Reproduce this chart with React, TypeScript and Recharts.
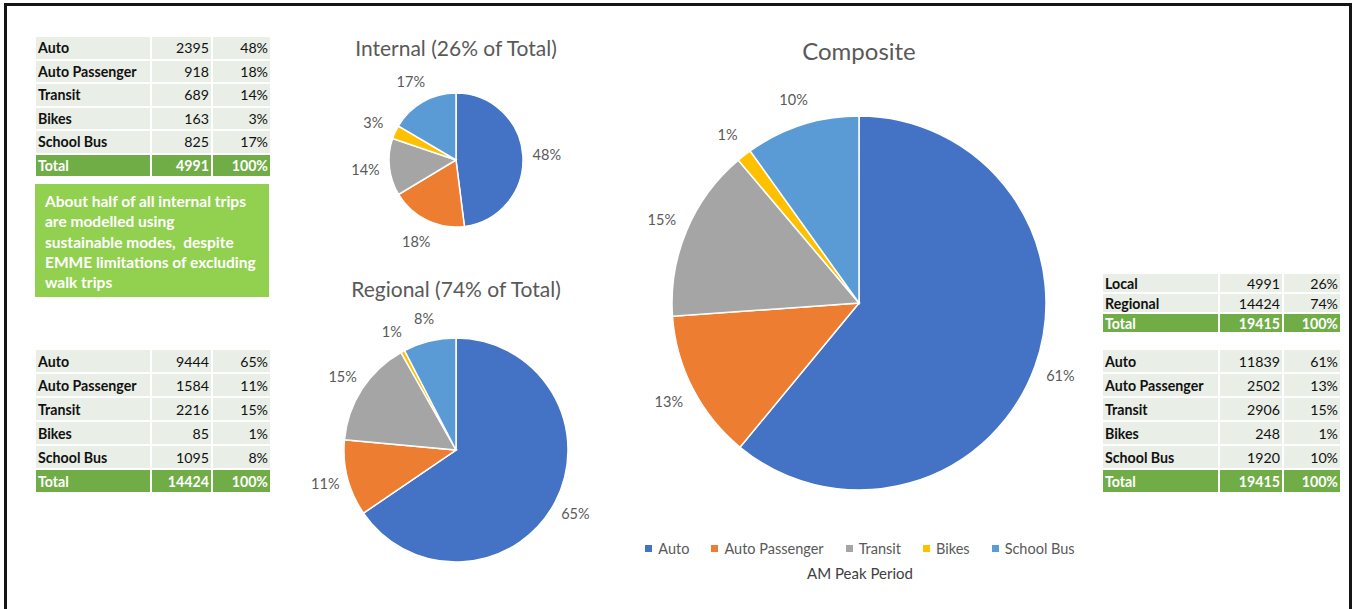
import React from "react";
import { PieChart, Pie, Cell, Legend } from "recharts";

const categories = ["Auto", "Auto Passenger", "Transit", "Bikes", "School Bus"];
const colors = ["#4472C4", "#ED7D31", "#A5A5A5", "#FFC000", "#5B9BD5"];

const internalValues = [2395, 918, 689, 163, 825];
const internalPct = ["48%", "18%", "14%", "3%", "17%"];
const internalTotal = 4991;

const regionalValues = [9444, 1584, 2216, 85, 1095];
const regionalPct = ["65%", "11%", "15%", "1%", "8%"];
const regionalTotal = 14424;

const compositeValues = [11839, 2502, 2906, 248, 1920];
const compositePct = ["61%", "13%", "15%", "1%", "10%"];
const compositeTotal = 19415;

const splitLabels = ["Local", "Regional"];
const splitValues = [4991, 14424];
const splitPct = ["26%", "74%"];

const noteLines = [
  "About half of all internal trips",
  "are modelled using",
  "sustainable modes,  despite",
  "EMME limitations of excluding",
  "walk trips",
];

const FONT = "Lato, 'Open Sans', sans-serif";
const RADIAN = Math.PI / 180;
const NO_MARGIN = { top: 0, right: 0, bottom: 0, left: 0 };

const toData = (values: number[]) =>
  categories.map((name, i) => ({ name, value: values[i] }));

const makeLabel = (gap: number) => (props: any) => {
  const { cx, cy, midAngle, outerRadius, percent } = props;
  const r = outerRadius + gap;
  const x = cx + r * Math.cos(-midAngle * RADIAN);
  const y = cy + r * Math.sin(-midAngle * RADIAN);
  return (
    <text
      x={x}
      y={y}
      fill="#595959"
      fontSize={14.5}
      fontFamily={FONT}
      textAnchor="middle"
      dominantBaseline="central"
    >
      {Math.round(percent * 100)}%
    </text>
  );
};

interface TableProps {
  left: number;
  top: number;
  cols: number[];
  rowH: number;
  labels: string[];
  values: number[];
  pct: string[];
  total: number;
}

const DataTable: React.FC<TableProps> = ({ left, top, cols, rowH, labels, values, pct, total }) => {
  const rows = labels.map((l, i) => ({ label: l, value: String(values[i]), pct: pct[i], isTotal: false }));
  rows.push({ label: "Total", value: String(total), pct: "100%", isTotal: true });
  const cell = (isTotal: boolean): React.CSSProperties => ({
    background: isTotal ? "#70AD47" : "#E9EEE6",
    color: isTotal ? "#fff" : "#111",
    height: rowH,
    display: "flex",
    alignItems: "center",
    fontSize: 14.2,
    boxSizing: "border-box",
    padding: "0 2px",
  });
  return (
    <div
      style={{
        position: "absolute",
        left,
        top,
        display: "grid",
        gridTemplateColumns: cols.map((c) => `${c}px`).join(" "),
        columnGap: 2,
        rowGap: 2,
        fontFamily: FONT,
      }}
    >
      {rows.map((r) => (
        <React.Fragment key={r.label}>
          <div style={{ ...cell(r.isTotal), fontWeight: 700 }}>{r.label}</div>
          <div style={{ ...cell(r.isTotal), justifyContent: "flex-end", fontWeight: r.isTotal ? 700 : 400 }}>
            {r.value}
          </div>
          <div style={{ ...cell(r.isTotal), justifyContent: "flex-end", fontWeight: r.isTotal ? 700 : 400 }}>
            {r.pct}
          </div>
        </React.Fragment>
      ))}
    </div>
  );
};

const LegendContent = (props: any) => {
  const items = [...(props.payload || [])].sort(
    (a: any, b: any) => categories.indexOf(a.value) - categories.indexOf(b.value)
  );
  return (
    <div style={{ display: "flex", justifyContent: "center", fontFamily: FONT, fontSize: 14.5, color: "#595959" }}>
      {items.map((p: any) => (
        <span key={p.value} style={{ display: "inline-flex", alignItems: "center", margin: "0 11px" }}>
          <span style={{ width: 7, height: 7, background: p.color, display: "inline-block", marginRight: 6 }} />
          {p.value}
        </span>
      ))}
    </div>
  );
};

interface PieBlockProps {
  values: number[];
  left: number;
  top: number;
  width: number;
  height: number;
  cx: number;
  cy: number;
  r: number;
  gap: number;
  withLegend?: boolean;
}

const PieBlock: React.FC<PieBlockProps> = ({ values, left, top, width, height, cx, cy, r, gap, withLegend }) => (
  <div style={{ position: "absolute", left, top }}>
    <PieChart width={width} height={height} margin={NO_MARGIN}>
      <Pie
        data={toData(values)}
        dataKey="value"
        nameKey="name"
        cx={cx}
        cy={cy}
        outerRadius={r}
        startAngle={90}
        endAngle={-270}
        stroke="#fff"
        strokeWidth={1.5}
        label={makeLabel(gap)}
        labelLine={false}
        isAnimationActive={false}
      >
        {values.map((_, i) => (
          <Cell key={categories[i]} fill={colors[i]} />
        ))}
      </Pie>
      {withLegend && (
        <Legend
          content={<LegendContent />}
          wrapperStyle={{ position: "absolute", left: 0, top: 510, width: width }}
        />
      )}
    </PieChart>
  </div>
);

const titleStyle = (left: number, top: number, width: number, size: number): React.CSSProperties => ({
  position: "absolute",
  left,
  top,
  width,
  textAlign: "center",
  fontFamily: FONT,
  fontSize: size,
  color: "#595959",
});

export default function App() {
  return (
    <div style={{ position: "absolute", left: 0, top: 0, width: 1352, height: 609, background: "#fff", overflow: "hidden" }}>
      <div
        style={{
          position: "absolute",
          left: 4,
          top: 3,
          width: 1342,
          height: 640,
          border: "3px solid #151515",
        }}
      />

      <DataTable left={36} top={37} cols={[114, 59, 57]} rowH={21.5} labels={categories} values={internalValues} pct={internalPct} total={internalTotal} />

      <div
        style={{
          position: "absolute",
          left: 35,
          top: 184,
          width: 234,
          height: 113,
          background: "#92D050",
          color: "#fff",
          fontFamily: FONT,
          fontWeight: 700,
          fontSize: 15.5,
          lineHeight: "20.3px",
          padding: "7px 0 0 10px",
          boxSizing: "border-box",
          whiteSpace: "pre",
        }}
      >
        {noteLines.join("\n")}
      </div>

      <DataTable left={36} top={350} cols={[114, 59, 57]} rowH={22} labels={categories} values={regionalValues} pct={regionalPct} total={regionalTotal} />

      <DataTable left={1103} top={274} cols={[115, 62, 56]} rowH={18} labels={splitLabels} values={splitValues} pct={splitPct} total={compositeTotal} />

      <DataTable left={1103} top={350} cols={[115, 62, 56]} rowH={22} labels={categories} values={compositeValues} pct={compositePct} total={compositeTotal} />

      <div style={titleStyle(336, 35, 240, 21)}>Internal (26% of Total)</div>
      <div style={titleStyle(336, 276, 240, 21)}>Regional (74% of Total)</div>
      <div style={titleStyle(739, 36, 240, 24)}>Composite</div>

      <PieBlock values={internalValues} left={330} top={60} width={260} height={200} cx={126} cy={100} r={67} gap={24} />
      <PieBlock values={regionalValues} left={300} top={310} width={310} height={280} cx={156} cy={140} r={112} gap={23} />
      <PieBlock values={compositeValues} left={610} top={30} width={500} height={560} cx={249} cy={273} r={187} gap={27} withLegend />

      <div style={{ ...titleStyle(740, 564, 240, 15), color: "#404040" }}>AM Peak Period</div>
    </div>
  );
}
